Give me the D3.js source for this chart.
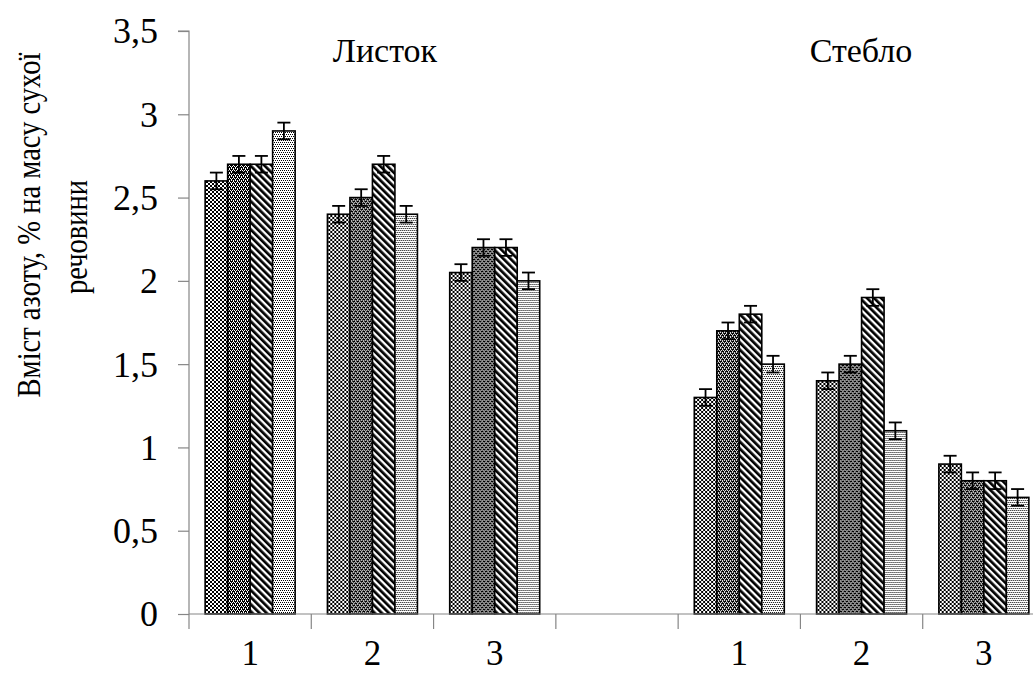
<!DOCTYPE html>
<html><head><meta charset="utf-8">
<script src="https://cdn.jsdelivr.net/npm/d3@7"></script>
<style>
html,body{margin:0;padding:0;background:#fff;}
svg text{font-family:"Liberation Serif","Times New Roman",Times,serif;fill:#000;}
</style></head>
<body><svg id="c" width="1033" height="673"></svg>
<script>
// ---- data ----
const categories = ["1","2","3","","1","2","3"];
const groupTitles = ["Листок","Стебло"];
const seriesNames = ["s1","s2","s3","s4"];
const series1 = [2.6, 2.4, 2.05, null, 1.3, 1.4, 0.9];
const series2 = [2.7, 2.5, 2.2, null, 1.7, 1.5, 0.8];
const series3 = [2.7, 2.7, 2.2, null, 1.8, 1.9, 0.8];
const series4 = [2.9, 2.4, 2.0, null, 1.5, 1.1, 0.7];
const errorValue = 0.05;
const yTicks = [0, 0.5, 1, 1.5, 2, 2.5, 3, 3.5];
const yTitle = ["Вміст азоту, % на масу сухої", "речовини"];

const allSeries = [series1, series2, series3, series4];
const FONT = "'Liberation Serif','Times New Roman',Times,serif";
const svg = d3.select("#c");
const defs = svg.append("defs");

// patterns
function pixelPattern(id, size, pixels, bg, fg) {
  const p = defs.append("pattern").attr("id", id).attr("patternUnits","userSpaceOnUse")
    .attr("width", size).attr("height", size);
  p.append("rect").attr("width", size).attr("height", size).attr("fill", bg);
  pixels.forEach(([x,y]) => p.append("rect").attr("x",x).attr("y",y).attr("width",1).attr("height",1)
    .attr("fill",fg).attr("shape-rendering","crispEdges"));
}
// series 1: diamond lattice (white crosses on dark X lines)
pixelPattern("p0", 4, [[0,0],[1,1],[2,2],[3,3],[3,0],[2,1],[1,2],[0,3]], "#fff", "#000");
// series 2: dark with white dots
pixelPattern("p1", 4, [[0,0],[2,0],[1,2],[3,2],[0,1],[2,3]], "#000", "#fff");
// series 3: diagonal stripes "\"
(function(){
  const p = defs.append("pattern").attr("id","p2").attr("patternUnits","userSpaceOnUse")
    .attr("width",5).attr("height",5).attr("patternTransform","rotate(-45)");
  p.append("rect").attr("width",5).attr("height",5).attr("fill","#fff");
  p.append("rect").attr("width",2.7).attr("height",5).attr("fill","#000");
})();
// series 4: light dots
pixelPattern("p3", 4, [[0,0],[2,0],[1,2],[3,2]], "#fff", "#000");

// ---- scales ----
const x0 = d3.scaleBand().domain(d3.range(categories.length)).range([189, 1045]).padding(0);
const innerPad = x0.bandwidth() * 0.132;
const x1 = d3.scaleBand().domain(seriesNames).range([innerPad, x0.bandwidth() - innerPad]).padding(0);
const y = d3.scaleLinear().domain([0, 3.5]).range([614, 31]);

const axisColor = "#868686";

// y axis
const yAxis = svg.append("g").attr("transform", `translate(${x0.range()[0]},0)`)
  .call(d3.axisLeft(y).tickValues(yTicks).tickSize(11).tickPadding(20)
    .tickFormat(d => String(d).replace(".", ",")));
yAxis.attr("font-family", null);
yAxis.select(".domain").attr("stroke", axisColor).attr("stroke-width",1.2).attr("d", `M-11,${y(3.5)}H0V${y(0)}`);
yAxis.selectAll(".tick line").attr("stroke", axisColor).attr("stroke-width",1.2);
yAxis.selectAll(".tick text").attr("font-size", 36).style("font-family", FONT).attr("dy","0.33em");

// bars
const gCat = svg.append("g").selectAll("g").data(categories).join("g")
  .attr("transform", (d,i) => `translate(${x0(i)},0)`);
seriesNames.forEach((s, si) => {
  gCat.each(function(d, i) {
    const v = allSeries[si][i];
    if (v == null) return;
    const bx = x1(s), bw = x1.bandwidth();
    d3.select(this).append("rect").attr("x", bx).attr("y", y(v)).attr("width", bw).attr("height", y(0) - y(v))
      .attr("fill", `url(#p${si})`).attr("stroke", "#000").attr("stroke-width", 1.6);
  });
});
// error bars
seriesNames.forEach((s, si) => {
  gCat.each(function(d, i) {
    const v = allSeries[si][i];
    if (v == null) return;
    const g = d3.select(this).append("g").attr("stroke","#000").attr("stroke-width",1.8);
    const cx = x1(s) + x1.bandwidth() / 2;
    const hi = y(v + errorValue), lo = y(v - errorValue);
    g.append("line").attr("x1",cx).attr("x2",cx).attr("y1",hi).attr("y2",lo);
    g.append("line").attr("x1",cx-6.5).attr("x2",cx+6.5).attr("y1",hi).attr("y2",hi);
    g.append("line").attr("x1",cx-6.5).attr("x2",cx+6.5).attr("y1",lo).attr("y2",lo);
  });
});

// x axis
const xAxisG = svg.append("g").attr("transform", `translate(0,${y(0)})`);
xAxisG.append("line").attr("x1", x0.range()[0]).attr("x2", 1040).attr("y1",0).attr("y2",0)
  .attr("stroke", axisColor).attr("stroke-width",1.2);
xAxisG.selectAll("line.b").data(d3.range(categories.length + 1)).join("line").attr("class","b")
  .attr("x1", i => x0.range()[0] + i * x0.step()).attr("x2", i => x0.range()[0] + i * x0.step())
  .attr("y1",0).attr("y2",15).attr("stroke", axisColor).attr("stroke-width",1.2);
xAxisG.selectAll("text").data(categories).join("text")
  .attr("x", (d,i) => x0(i) + x0.bandwidth()/2).attr("y", 51)
  .attr("text-anchor","middle").attr("font-size",35).style("font-family", FONT).text(d => d);

// group titles
const titleX = [385, 861];
svg.selectAll("text.gt").data(groupTitles).join("text").attr("class","gt")
  .attr("x", (d,i) => titleX[i]).attr("y", 62).attr("text-anchor","middle").attr("font-size",34)
  .style("font-family", FONT).text(d => d);

// y title
svg.append("text").attr("transform","translate(40,225) rotate(-90) scale(0.84,1)").attr("text-anchor","middle")
  .attr("font-size",34).style("font-family", FONT).text(yTitle[0]);
svg.append("text").attr("transform","translate(87,237) rotate(-90) scale(0.84,1)").attr("text-anchor","middle")
  .attr("font-size",34).style("font-family", FONT).text(yTitle[1]);
</script></body></html>
